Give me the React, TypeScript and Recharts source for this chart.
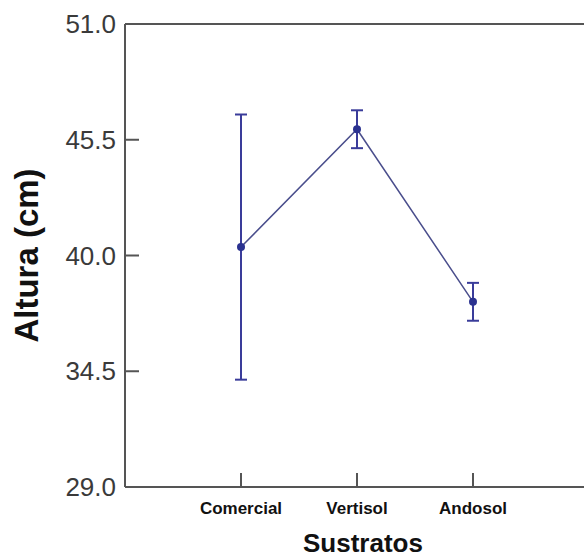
import { LineChart, Line, XAxis, YAxis, ErrorBar, ReferenceLine, Label } from 'recharts'

const categories = ['Comercial', 'Vertisol', 'Andosol']
const positions = [1, 2, 3]
const means = [40.4, 46.0, 37.8]
const errors = [6.3, 0.9, 0.9]
const yTicks = [29, 34.5, 40, 45.5, 51]

const data = categories.map((name, i) => ({ name, pos: positions[i], altura: means[i], err: errors[i] }))

const FONT = '"Liberation Sans", Arial, sans-serif'
const AXIS = '#555'
const Y_MARGIN = 9
const X_MARGIN = 15
const TICK_LEN = 14

function LeftTick({ x, y, payload }: any) {
    const ax = x + Y_MARGIN
    return (
        <g>
            <line x1={ax} x2={ax + TICK_LEN} y1={y} y2={y} stroke={AXIS} strokeWidth={2} />
            <text x={x} y={y} dy="0.355em" textAnchor="end" fontSize={26} fill="#3a3a3a" fontFamily={FONT}>
                {Number(payload.value).toFixed(1)}
            </text>
        </g>
    )
}

function RightTick({ x, y }: any) {
    return <line x1={x} x2={x - TICK_LEN} y1={y} y2={y} stroke={AXIS} strokeWidth={2} />
}

function BottomTick({ x, y, payload }: any) {
    const ay = y - X_MARGIN
    return (
        <g>
            <line x1={x} x2={x} y1={ay} y2={ay - TICK_LEN} stroke={AXIS} strokeWidth={2} />
            <text x={x} y={y} dy="0.71em" textAnchor="middle" fontSize={17} fontWeight="bold" fill="#111" fontFamily={FONT}>
                {categories[payload.value - 1]}
            </text>
        </g>
    )
}

export default function App() {
    return (
        <div style={{ position: 'absolute', left: 0, top: 0, width: 584, height: 558, overflow: 'hidden', background: '#fff' }}>
            <LineChart width={600} height={558} data={data} margin={{ top: 24, right: 0, bottom: 0, left: 0 }}>
                <XAxis
                    type="number"
                    dataKey="pos"
                    domain={[0, 4]}
                    ticks={positions}
                    height={71}
                    tickSize={0}
                    tickMargin={X_MARGIN}
                    tickLine={false}
                    tick={<BottomTick />}
                    axisLine={{ stroke: AXIS, strokeWidth: 2 }}
                >
                    <Label value="Sustratos" position="insideBottom" offset={6} dx={6} fontSize={26} fontWeight="bold" fill="#111" fontFamily={FONT} />
                </XAxis>
                <YAxis
                    type="number"
                    domain={[29, 51]}
                    ticks={yTicks}
                    width={125}
                    tickSize={0}
                    tickMargin={Y_MARGIN}
                    tickLine={false}
                    tick={<LeftTick />}
                    axisLine={{ stroke: AXIS, strokeWidth: 2 }}
                >
                    <Label value="Altura (cm)" angle={-90} position="center" dx={-36} fontSize={33} fontWeight="bold" fill="#111" fontFamily={FONT} />
                </YAxis>
                <YAxis
                    yAxisId="r"
                    orientation="right"
                    type="number"
                    domain={[29, 51]}
                    ticks={yTicks}
                    width={11}
                    tickSize={0}
                    tickMargin={0}
                    tickLine={false}
                    tick={<RightTick />}
                    axisLine={{ stroke: AXIS, strokeWidth: 2 }}
                />
                <ReferenceLine y={51} stroke={AXIS} strokeWidth={2} />
                <Line
                    dataKey="altura"
                    stroke="#4a4e8c"
                    strokeWidth={1.5}
                    dot={{ r: 4, fill: '#2b3290', stroke: '#2b3290', strokeWidth: 0 }}
                    isAnimationActive={false}
                >
                    <ErrorBar dataKey="err" direction="y" width={6} stroke="#3a3c9a" strokeWidth={2} />
                </Line>
            </LineChart>
        </div>
    )
}
